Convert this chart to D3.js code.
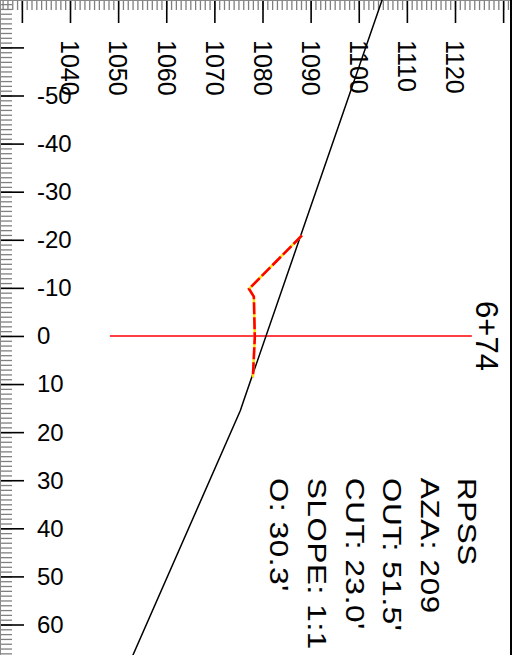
<!DOCTYPE html>
<html><head><meta charset="utf-8">
<script src="https://cdn.jsdelivr.net/npm/d3@7"></script>
<style>html,body{margin:0;padding:0;background:#fff;overflow:hidden}svg{display:block}</style>
</head><body>
<svg id="c" width="515" height="655"></svg>
<script>
// ---- data ----
const elevLabels = [1040,1050,1060,1070,1080,1090,1100,1110,1120];
const elevMajor = [1030,1040,1050,1060,1070,1080,1090,1100,1110,1120,1130];
const offsetLabels = [-50,-40,-30,-20,-10,0,10,20,30,40,50,60];
const offsetMajor = [-60,-50,-40,-30,-20,-10,0,10,20,30,40,50,60];
const groundElev = [1104.9, 1076.1, 1075.4, 1052.8];
const groundOffset = [-70, 13.4, 15.5, 67];
const templateElev = [1088.2, 1077.2, 1078.2, 1078.4, 1078.0];
const templateOffset = [-20.9, -9.8, -8.2, 0.3, 8.6];
const stationElev = [1048.3, 1123.5];
const stationOffset = [0, 0];
const stationLabel = "6+74";
const infoLines = ["RPSS", "AZA: 209", "OUT: 51.5'", "CUT: 23.0'", "SLOPE: 1:1", "O: 30.3'"];

// ---- layout ----
const W = 515, H = 655, RIGHT = 511;
const svg = d3.select("#c");
const x = d3.scaleLinear().domain([1040, 1120]).range([70, 455]);
const y = d3.scaleLinear().domain([-50, 60]).range([95.5, 624.5]);
const font = "'Liberation Sans', Arial, sans-serif";

svg.append("defs").append("clipPath").attr("id", "clip")
  .append("rect").attr("x", 0).attr("y", 0).attr("width", RIGHT).attr("height", H);
const g = svg.append("g").attr("clip-path", "url(#clip)");

// minor ticks
const xMinor = d3.range(Math.ceil(x.invert(0)), Math.floor(x.invert(RIGHT)) + 1);
const yMinor = d3.range(Math.ceil(y.invert(0)), Math.floor(y.invert(H)) + 1);

const topMinor = g.append("g").call(d3.axisBottom(x).tickValues(xMinor).tickSize(10).tickFormat(""));
topMinor.selectAll(".tick line").attr("stroke", "#808080").attr("stroke-width", 1.3);
topMinor.select(".domain").remove();
const topMajor = g.append("g").call(d3.axisBottom(x).tickValues(elevMajor).tickSize(23).tickFormat(""));
topMajor.selectAll(".tick line").attr("stroke", "#000").attr("stroke-width", 1.6);
topMajor.select(".domain").remove();

const leftMinor = g.append("g").call(d3.axisRight(y).tickValues(yMinor).tickSize(12).tickFormat(""));
leftMinor.selectAll(".tick line").attr("stroke", "#808080").attr("stroke-width", 1.3);
leftMinor.select(".domain").remove();
const leftMajor = g.append("g").call(d3.axisRight(y).tickValues(offsetMajor).tickSize(24).tickFormat(""));
leftMajor.selectAll(".tick line").attr("stroke", "#000").attr("stroke-width", 1.6);
leftMajor.select(".domain").remove();

// axis edge lines
g.append("line").attr("x1", 0.5).attr("x2", 0.5).attr("y1", 0).attr("y2", H).attr("stroke", "#8a8a8a").attr("stroke-width", 1);
g.append("line").attr("x1", 0).attr("x2", RIGHT).attr("y1", 0.5).attr("y2", 0.5).attr("stroke", "#8a8a8a").attr("stroke-width", 1);

// top labels (rotated)
g.selectAll("text.elev").data(elevLabels).join("text").attr("class", "elev")
  .attr("transform", d => `translate(${x(d)},40) rotate(90)`)
  .attr("dy", "0.35em").attr("text-anchor", "start")
  .attr("font-family", font).attr("font-size", 25).attr("fill", "#000")
  .text(d => d);

// left labels
g.selectAll("text.off").data(offsetLabels).join("text").attr("class", "off")
  .attr("x", 37).attr("y", d => y(d)).attr("dy", "0.35em")
  .attr("font-family", font).attr("font-size", 24).attr("fill", "#000")
  .text(d => d);

// station line
const line = d3.line().x(d => x(d[0])).y(d => y(d[1]));
g.append("path").datum(d3.zip(stationElev, stationOffset)).attr("d", line)
  .attr("fill", "none").attr("stroke", "#ff0000").attr("stroke-width", 1.5);

// ground
g.append("path").datum(d3.zip(groundElev, groundOffset)).attr("d", line)
  .attr("fill", "none").attr("stroke", "#000").attr("stroke-width", 1.5);

// template
const tpl = d3.zip(templateElev, templateOffset);
g.append("path").datum(tpl).attr("d", line)
  .attr("fill", "none").attr("stroke", "#ffe400").attr("stroke-width", 2.4);
g.append("path").datum(tpl).attr("d", line)
  .attr("fill", "none").attr("stroke", "#ff0000").attr("stroke-width", 2.6)
  .attr("stroke-dasharray", "12,3").attr("stroke-linejoin", "miter");

// station label
g.append("text").attr("transform", `translate(487,${y(0)}) rotate(90)`)
  .attr("dy", "0.35em").attr("text-anchor", "middle")
  .attr("font-family", font).attr("font-size", 31).attr("fill", "#000")
  .text(stationLabel);

// info block
const infoX = [467.5, 430.5, 392.5, 355, 317.5, 279.5];
g.selectAll("text.info").data(infoLines).join("text").attr("class", "info")
  .attr("transform", (d, i) => `translate(${infoX[i]},478) rotate(90) scale(1.2,1)`)
  .attr("dy", "0.35em").attr("text-anchor", "start")
  .attr("font-family", font).attr("font-size", 26).attr("letter-spacing", 0.6)
  .attr("fill", "#000").attr("stroke", "#000").attr("stroke-width", 0.12)
  .text(d => d);

// right border
svg.append("line").attr("x1", RIGHT).attr("x2", RIGHT).attr("y1", 0).attr("y2", H)
  .attr("stroke", "#000").attr("stroke-width", 2);
</script>
</body></html>
